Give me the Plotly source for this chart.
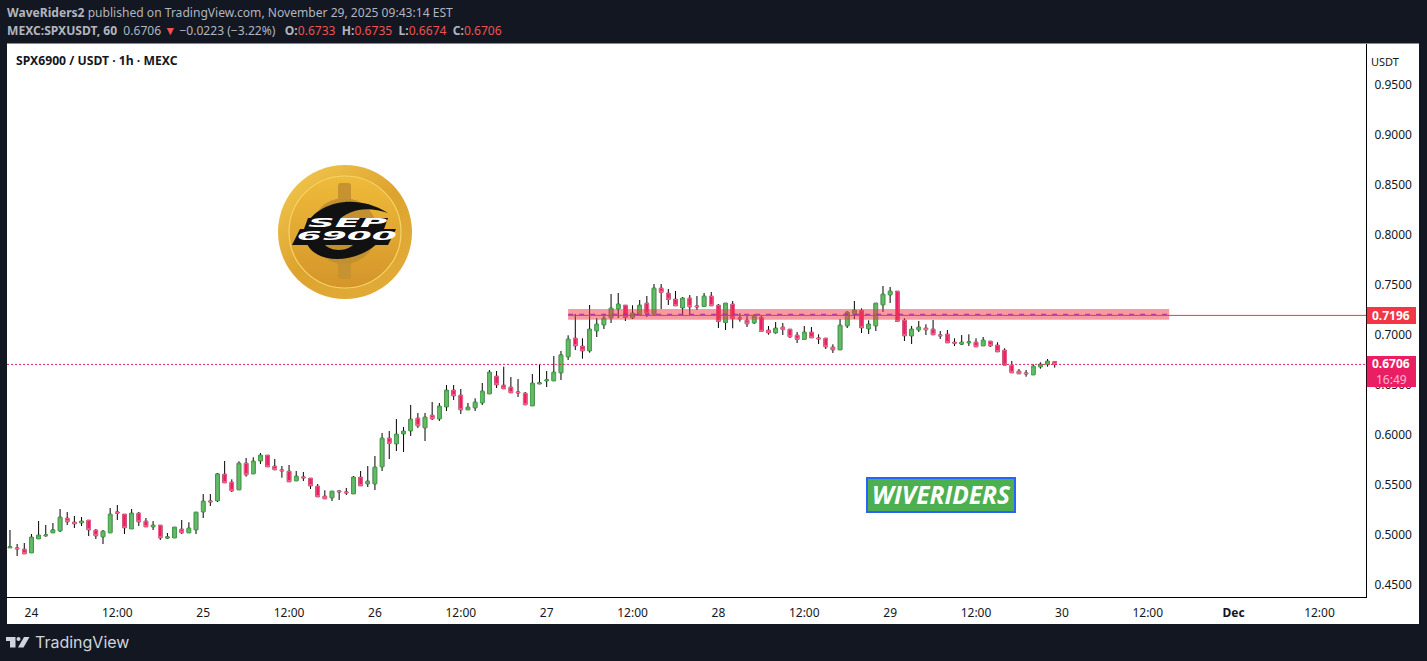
import base64
import pandas as pd
import plotly.graph_objects as go

W, H = 1427, 661
L, R, T, B = 7, 1366, 44, 597

first_candle = "2025-11-23 21:00"

opens = [.4873,.4870,.4857,.4823,.4963,.4993,.5023,.5043,.5167,.5127,.5123,.5147,.5047,.4983,.5023,.5230,.5207,.5063,.5217,.5137,
 .5083,.5097,.4970,.4973,.5057,.5023,.5053,.5233,.5340,.5343,.5607,.5527,.5453,.5717,.5613,.5743,.5797,.5687,.5650,.5637,
 .5543,.5580,.5567,.5487,.5387,.5373,.5440,.5430,.5413,.5577,.5513,.5513,.5683,.5967,.5913,.6013,.6043,.6167,.6073,.6197,
 .6163,.6283,.6447,.6397,.6253,.6273,.6323,.6413,.6587,.6497,.6477,.6430,.6417,.6293,.6513,.6543,.6543,.6623,.6783,.6967,
 .6887,.6843,.7043,.7103,.7173,.7263,.7297,.7173,.7203,.7317,.7210,.7467,.7417,.7357,.7273,.7367,.7290,.7287,.7387,.7297,
 .7127,.7307,.7170,.7147,.7123,.7173,.7047,.7023,.7077,.7057,.6997,.6957,.7027,.6970,.6967,.6877,.6853,.7093,.7210,.7243,
 .7063,.7093,.7303,.7403,.7437,.7147,.6993,.7053,.7067,.7057,.7000,.7007,.6927,.6910,.6923,.6927,.6893,.6937,.6897,.6847,
 .6697,.6637,.6620,.6603,.6683,.6707,.6733]
highs = [.5050,.4910,.4920,.5010,.5140,.5100,.5120,.5260,.5230,.5190,.5180,.5147,.5060,.5050,.5270,.5300,.5207,.5260,.5230,.5170,
 .5140,.5097,.5020,.5077,.5150,.5127,.5227,.5410,.5410,.5620,.5740,.5557,.5737,.5770,.5777,.5820,.5797,.5760,.5690,.5700,
 .5640,.5630,.5567,.5510,.5447,.5437,.5447,.5470,.5590,.5640,.5690,.5790,.6020,.6040,.6160,.6080,.6300,.6220,.6220,.6330,
 .6320,.6500,.6500,.6460,.6320,.6367,.6520,.6650,.6640,.6683,.6580,.6560,.6430,.6610,.6707,.6640,.6790,.6840,.6997,.7210,
 .6967,.7300,.7170,.7210,.7410,.7420,.7297,.7297,.7350,.7390,.7510,.7510,.7460,.7440,.7380,.7400,.7390,.7420,.7430,.7310,
 .7317,.7340,.7217,.7193,.7210,.7193,.7090,.7130,.7120,.7057,.7030,.7090,.7080,.7007,.6967,.6907,.7160,.7237,.7340,.7267,
 .7147,.7317,.7490,.7480,.7437,.7167,.7090,.7140,.7107,.7150,.7040,.7050,.6967,.7000,.7007,.6967,.6980,.6937,.6927,.6867,
 .6740,.6660,.6650,.6707,.6727,.6760,.6735]
lows = [.4870,.4790,.4813,.4823,.4963,.4983,.5023,.5030,.5100,.5070,.5090,.4990,.4960,.4910,.5023,.5150,.5010,.5063,.5090,.5083,
 .5050,.4950,.4963,.4973,.5010,.5023,.5010,.5170,.5290,.5330,.5523,.5430,.5453,.5583,.5613,.5710,.5683,.5653,.5573,.5533,
 .5543,.5540,.5460,.5383,.5363,.5340,.5350,.5400,.5413,.5493,.5480,.5450,.5640,.5760,.5840,.5830,.5990,.6070,.5940,.6150,
 .6140,.6240,.6350,.6210,.6253,.6240,.6300,.6413,.6470,.6463,.6423,.6380,.6303,.6293,.6507,.6480,.6543,.6550,.6750,.6850,
 .6763,.6823,.6980,.7060,.7120,.7170,.7140,.7160,.7203,.7180,.7210,.7260,.7300,.7293,.7193,.7200,.7250,.7287,.7293,.7070,
 .7050,.7067,.7133,.7080,.7110,.7037,.7003,.7013,.7000,.6970,.6920,.6957,.6973,.6910,.6860,.6820,.6853,.7070,.7160,.7020,
 .7010,.7040,.7230,.7320,.7137,.6940,.6910,.7030,.7000,.7003,.6960,.6923,.6890,.6900,.6890,.6883,.6893,.6880,.6833,.6700,
 .6623,.6613,.6583,.6603,.6663,.6683,.6674]
closes = [.4880,.4863,.4813,.4977,.4997,.5000,.5050,.5177,.5133,.5113,.5137,.5053,.4993,.5037,.5207,.5220,.5073,.5217,.5133,.5083,
 .5097,.4973,.4980,.5077,.5023,.5067,.5227,.5337,.5333,.5610,.5523,.5443,.5717,.5603,.5737,.5797,.5683,.5653,.5643,.5533,
 .5587,.5573,.5493,.5383,.5363,.5437,.5433,.5423,.5577,.5493,.5537,.5677,.5967,.5917,.6007,.6037,.6157,.6093,.6177,.6163,
 .6287,.6447,.6393,.6253,.6277,.6327,.6437,.6627,.6503,.6463,.6423,.6423,.6303,.6517,.6520,.6550,.6627,.6800,.6957,.6893,
 .6843,.7057,.7107,.7167,.7267,.7307,.7177,.7217,.7297,.7217,.7467,.7427,.7357,.7293,.7367,.7283,.7283,.7387,.7293,.7137,
 .7317,.7167,.7163,.7113,.7187,.7037,.7023,.7067,.7057,.6983,.6957,.7027,.6973,.6963,.6883,.6853,.7097,.7227,.7247,.7073,
 .7107,.7317,.7407,.7437,.7137,.6993,.7057,.7077,.7053,.7003,.6993,.6923,.6920,.6927,.6930,.6883,.6947,.6893,.6833,.6700,
 .6623,.6613,.6613,.6687,.6707,.6737,.6706]

tick_dates = pd.date_range("2025-11-24", "2025-12-01 12:00", freq="12h")
tick_labels = ["24", "12:00", "25", "12:00", "26", "12:00", "27", "12:00", "28", "12:00",
               "29", "12:00", "30", "12:00", "<b>Dec</b>", "12:00"]
price_ticks = [0.45, 0.50, 0.55, 0.60, 0.65, 0.70, 0.75, 0.80, 0.85, 0.90, 0.95]
level_price = 0.7196
last_price = 0.6706
zone_low, zone_high = 0.7153, 0.7260
dash_level = 0.7207
zone_start, zone_end = "2025-11-27 03:00", "2025-11-30 15:00"

times = pd.date_range(first_candle, periods=len(opens), freq="h")

DARK = "#131722"
INK = "#131722"
GREEN_LINE, GREEN_FILL = "#4caf50", "#66bb6a"
RED_LINE, RED_FILL = "#f7698f", "#e91e63"
FONT = "Noto Sans"


def px(x):
    return (x - L) / (R - L)


def py(y):
    return (B - y) / (B - T)


def text(x, y, s, size=12, color=INK, anchor="left", family=FONT, yanchor="middle"):
    return dict(xref="paper", yref="paper", x=px(x), y=py(y), text=s, showarrow=False,
                xanchor=anchor, yanchor=yanchor, align=anchor, borderpad=0,
                font=dict(size=size, color=color, family=family))


fig = go.Figure()
fig.add_trace(go.Candlestick(
    x=times, open=opens, high=highs, low=lows, close=closes, whiskerwidth=0,
    increasing=dict(line=dict(color="#000000", width=1), fillcolor="#000000"),
    decreasing=dict(line=dict(color="#000000", width=1), fillcolor="#000000"),
    hoverinfo="skip", showlegend=False))
fig.add_trace(go.Candlestick(
    x=times, open=opens, close=closes,
    high=[max(o, c) for o, c in zip(opens, closes)],
    low=[min(o, c) for o, c in zip(opens, closes)],
    whiskerwidth=0,
    increasing=dict(line=dict(color=GREEN_LINE, width=1), fillcolor=GREEN_FILL),
    decreasing=dict(line=dict(color=RED_LINE, width=1), fillcolor=RED_FILL),
    showlegend=False))

coin_svg = """<svg xmlns='http://www.w3.org/2000/svg' width='402' height='402' viewBox='0 0 134 134'>
<defs>
<linearGradient id='a' x1='0' y1='0' x2='0.8' y2='1'><stop offset='0' stop-color='#f4cc52'/><stop offset='0.55' stop-color='#dda32f'/><stop offset='1' stop-color='#e2ac38'/></linearGradient>
<linearGradient id='b' x1='0' y1='0' x2='0' y2='1'><stop offset='0' stop-color='#efbb3a'/><stop offset='1' stop-color='#d4952a'/></linearGradient>
</defs>
<circle cx='67' cy='67' r='67' fill='url(#a)'/>
<circle cx='67' cy='67' r='56' fill='url(#b)' stroke='#f6d465' stroke-width='1.2'/>
<rect x='60' y='18' width='13' height='96' rx='3' fill='#c79330'/>
<circle cx='66' cy='66' r='33' fill='#c39030'/>
<path d='M28 60 C38 40 74 26 110 48 C92 42 72 42 58 58 L40 58 Z' fill='#111'/>
<path d='M28 76 C34 98 76 102 102 76 L78 76 C72 88 50 88 44 76 Z' fill='#111'/>
<path d='M30 53 L110 53 L106 64 L118 64 L110 80 L14 80 L22 64 L26 64 Z' fill='#111'/>
</svg>"""
coin_uri = "data:image/svg+xml;base64," + base64.b64encode(coin_svg.encode()).decode()

shapes = [
    dict(type="rect", xref="paper", yref="paper", x0=px(7), x1=px(1419), y0=py(43.5), y1=py(624),
         fillcolor="#ffffff", line_width=0, layer="below"),
    dict(type="rect", xref="x", yref="y", x0=zone_start, x1=zone_end, y0=zone_low, y1=zone_high,
         fillcolor="rgba(242,54,69,0.5)", line_width=0, layer="above"),
    dict(type="line", xref="x", yref="y", x0=zone_start, x1=zone_end, y0=dash_level, y1=dash_level,
         line=dict(color="#9c27b0", width=1, dash="5px,6px"), layer="above"),
    dict(type="line", xref="x", yref="y", x0=zone_start, x1=times[-1] + pd.Timedelta(hours=43.5),
         y0=level_price, y1=level_price, line=dict(color="#f23645", width=1), layer="above"),
    dict(type="line", xref="paper", yref="y", x0=0, x1=1, y0=last_price, y1=last_price,
         line=dict(color=RED_FILL, width=1, dash="2px,2px"), layer="above"),
    dict(type="rect", xref="paper", yref="paper", x0=px(1366.8), x1=px(1416), y0=py(307), y1=py(324),
         fillcolor="#f23645", line_width=0, layer="above"),
    dict(type="rect", xref="paper", yref="paper", x0=px(1366.8), x1=px(1416), y0=py(356), y1=py(387),
         fillcolor=RED_FILL, line_width=0, layer="above"),
    dict(type="rect", xref="paper", yref="paper", x0=px(867), x1=px(1015), y0=py(478), y1=py(512),
         fillcolor="#4caf50", line=dict(color="#2962ff", width=2), layer="above"),
    # TradingView mark
    dict(type="path", xref="paper", yref="paper", fillcolor="#d1d4dc", line_width=0,
         path=f"M{px(6)},{py(637)} L{px(15.5)},{py(637)} L{px(15.5)},{py(647.5)} L{px(10)},{py(647.5)} "
              f"L{px(10)},{py(641)} L{px(6)},{py(641)} Z"),
    dict(type="path", xref="paper", yref="paper", fillcolor="#d1d4dc", line_width=0,
         path=f"M{px(24)},{py(637)} L{px(29.5)},{py(637)} L{px(23.5)},{py(647.5)} L{px(18)},{py(647.5)} Z"),
    dict(type="circle", xref="paper", yref="paper", fillcolor="#d1d4dc", line_width=0,
         x0=px(16.5), x1=px(20.5), y0=py(637), y1=py(641)),
]

header_grey = "#b2b5be"
red = "#ef5350"
sp = "&nbsp;"
line2 = (f"<b>MEXC:SPXUSDT, 60</b>{sp}{sp}0.6706{sp}<span style='color:{red}'>▼</span>{sp}−0.0223{sp}(−3.22%){sp}{sp} "
         f"<b>O:</b><span style='color:{red}'>0.6733</span>{sp}{sp}<b>H:</b><span style='color:{red}'>0.6735</span>{sp}{sp}"
         f"<b>L:</b><span style='color:{red}'>0.6674</span>{sp}{sp}<b>C:</b><span style='color:{red}'>0.6706</span>")

annotations = [
    text(6, 12, "<b>WaveRiders2</b> published on TradingView.com, November 29, 2025 09:43:14 EST", 12.08, header_grey),
    text(6, 30, line2, 12.08, header_grey),
    text(15, 60, "<b>SPX6900 / USDT · 1h · MEXC</b>", 12.2),
    text(1385, 61, "USDT", 11, anchor="center"),
    text(1391, 315.5, "<b>0.7196</b>", 12, "#ffffff", "center"),
    text(1391, 363.5, "<b>0.6706</b>", 12, "#ffffff", "center"),
    text(1391, 379.5, "16:49", 12, "#f9bbd0", "center"),
    text(941, 494.5, "<b><i>WIVERIDERS</i></b>", 24.5, "#ffffff", "center", "Open Sans"),
    text(34, 642, "TradingView", 16, "#d1d4dc", family="Inter"),
    text(347.5, 223, "<b><i>SEP</i></b>", 12, "#ffffff", "center", "DejaVu Sans"),
    text(346, 236, "<b><i>6900</i></b>", 12, "#ffffff", "center", "DejaVu Sans"),
]

fig.update_layout(
    width=W, height=H, autosize=False,
    margin=dict(l=L, r=W - R, t=T, b=H - B, pad=0),
    paper_bgcolor=DARK, plot_bgcolor="#ffffff",
    boxmode="overlay", boxgap=0.3, showlegend=False,
    font=dict(family=FONT, size=12, color=INK),
    shapes=shapes, annotations=annotations,
    images=[dict(source=coin_uri, xref="paper", yref="paper", x=px(278), y=py(165),
                 sizex=px(412) - px(278), sizey=py(165) - py(299), sizing="stretch",
                 xanchor="left", yanchor="top", layer="above")],
    xaxis=dict(type="date", range=["2025-11-23 20:35", "2025-12-01 18:30"], rangeslider=dict(visible=False),
               tickvals=list(tick_dates), ticktext=tick_labels, tickangle=0, showgrid=False, zeroline=False,
               showline=True, linecolor="#000000", linewidth=1, ticks="", ticklabelstandoff=5,
               tickfont=dict(size=12, color=INK, family=FONT)),
    yaxis=dict(side="right", range=[0.438, 0.991], tickvals=price_ticks, tickformat=".4f",
               showgrid=False, zeroline=False, showline=True, linecolor="#000000", linewidth=1, ticks="",
               ticklabelstandoff=5, tickfont=dict(size=12, color=INK, family=FONT)),
)

stretch_js = """
function stretchLogo(){
  var targets={'SEP':80,'6900':100};
  document.querySelectorAll('.annotation-text').forEach(function(t){
    var w=targets[t.textContent];
    if(!w)return;
    t.removeAttribute('transform');
    var b=t.getBBox();
    if(!b.width)return;
    var cx=b.x+b.width/2;
    t.setAttribute('transform','translate('+cx+',0) scale('+(w/b.width)+',1) translate('+(-cx)+',0)');
  });
}
stretchLogo();setTimeout(stretchLogo,150);
"""

fig.write_html("out.html", config=dict(displayModeBar=False, responsive=False),
               post_script=f"document.body.style.margin='0';document.body.style.background='{DARK}';"
                           "document.documentElement.style.overflow='hidden';" + stretch_js)
